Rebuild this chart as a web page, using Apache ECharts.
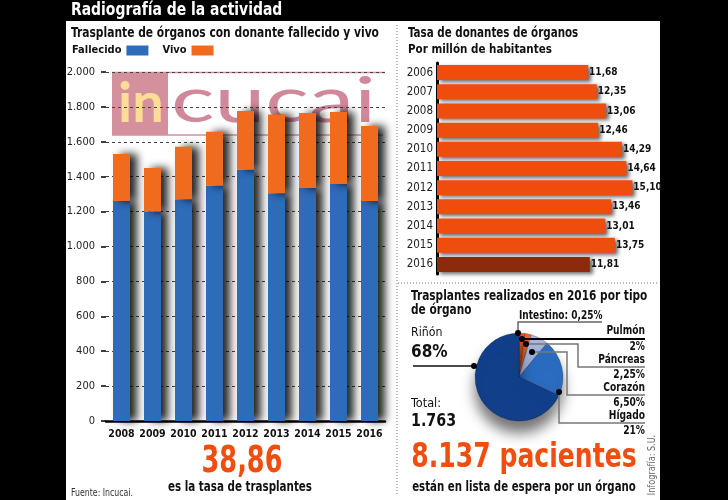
<!DOCTYPE html>
<html>
<head>
<meta charset="utf-8">
<script src="https://cdn.jsdelivr.net/npm/echarts@6/dist/echarts.min.js"></script>
<style>
html, body { margin: 0; padding: 0; background: #000; }
#chart { width: 728px; height: 500px; }
</style>
</head>
<body>
<div id="chart"></div>
<script>
// trasplantes por año (donante fallecido / vivo)
var years = ['2008', '2009', '2010', '2011', '2012', '2013', '2014', '2015', '2016'];
var fallecido = [1261, 1200, 1271, 1348, 1440, 1305, 1335, 1358, 1261];
var vivo = [269, 250, 301, 310, 337, 452, 430, 413, 429];

// tasa de donantes por millón de habitantes
var donYears = ['2006', '2007', '2008', '2009', '2010', '2011', '2012', '2013', '2014', '2015', '2016'];
var donRates = [11.68, 12.35, 13.06, 12.46, 14.29, 14.64, 15.10, 13.46, 13.01, 13.75, 11.81];

// trasplantes 2016 por órgano (%)
var organs = ['Intestino', 'Pulmón', 'Páncreas', 'Corazón', 'Hígado', 'Riñón'];
var organPct = [0.25, 2, 2.25, 6.5, 21, 68];
var organColors = ['#b8330c', '#e8571e', '#ee6a2c', '#a7b7e2', '#2c6cc0', '#123f8a'];

var totalTx = '1.763';
var tasaTx = '38,86';
var pacientes = '8.137';

var NARROW = '"DejaVu Sans Condensed", "Liberation Sans Narrow", sans-serif';

function miles(v) {
  if (v < 1000) return String(v);
  var r = String(v % 1000);
  while (r.length < 3) r = '0' + r;
  return Math.floor(v / 1000) + '.' + r;
}
function pct(p) {
  return (p % 1 ? p.toFixed(2).replace('.', ',') : String(p)) + '%';
}

// texto gráfico; sx = compresión horizontal (la fuente condensada instalada es más ancha)
function txt(x, y, text, font, fill, align, sx, extra) {
  var el = {
    type: 'text', x: x, y: y, z: 5, scaleX: sx || 1,
    style: {
      text: text, font: font, fill: fill || '#111',
      align: align || 'left', verticalAlign: 'middle',
      textAlign: align || 'left', textVerticalAlign: 'middle'
    }
  };
  if (extra) for (var k in extra) el[k] = extra[k];
  return el;
}
function line(points, color, width) {
  return { type: 'polyline', z: 4, shape: { points: points }, style: { stroke: color, lineWidth: width, fill: null } };
}
function dot(x, y) {
  return { type: 'circle', z: 6, shape: { cx: x, cy: y, r: 3 }, style: { fill: '#000' } };
}

var B = 'bold ';
var graphics = [
  // panel blanco
  { type: 'rect', z: -100, shape: { x: 66, y: 21, width: 594, height: 479 }, style: { fill: '#fff' } },
  // logo incucai (marca de agua)
  { type: 'rect', z: -50, shape: { x: 112, y: 72, width: 56, height: 63 }, style: { fill: '#d4909c' } },
  { type: 'line', z: -50, shape: { x1: 112, y1: 72.5, x2: 385, y2: 72.5 }, style: { stroke: '#d4909c', lineWidth: 1.5 } },
  { type: 'line', z: -50, shape: { x1: 112, y1: 135, x2: 383, y2: 135 }, style: { stroke: '#d4909c', lineWidth: 1.5 } },
  txt(118, 104, 'in', 'bold 56px Lato, sans-serif', '#fcdc96', 'left', 1, { z: -40 }),
  txt(171, 102, 'cucai', '62px Lato, sans-serif', '#d0889a', 'left', 1.47, { z: -40 }),
  // separadores punteados
  { type: 'line', z: 1, shape: { x1: 397, y1: 25, x2: 397, y2: 496 }, style: { stroke: '#777', lineWidth: 1, lineDash: [1, 2] } },
  { type: 'line', z: 1, shape: { x1: 398, y1: 283, x2: 658, y2: 283 }, style: { stroke: '#777', lineWidth: 1, lineDash: [1, 2] } },
  // títulos
  txt(71, 10, 'Radiografía de la actividad', B + '18px ' + NARROW, '#fff', 'left', 0.86),
  txt(71, 33, 'Trasplante de órganos con donante fallecido y vivo', B + '14px ' + NARROW, '#111', 'left', 0.85),
  txt(408, 33, 'Tasa de donantes de órganos', B + '14px ' + NARROW, '#111', 'left', 0.82),
  txt(408, 50, 'Por millón de habitantes', B + '12px ' + NARROW, '#111', 'left', 0.96),
  txt(411, 296, 'Trasplantes realizados en 2016 por tipo', B + '14px ' + NARROW, '#111', 'left', 0.84),
  txt(411, 310, 'de órgano', B + '14px ' + NARROW, '#111', 'left', 0.84),
  // cifras destacadas
  txt(242, 462, tasaTx, B + '37px ' + NARROW, '#f04e0e', 'center', 0.77),
  txt(240, 487, 'es la tasa de trasplantes', B + '14px ' + NARROW, '#111', 'center', 0.82),
  txt(71, 493, 'Fuente: Incucai.', '10px ' + NARROW, '#333', 'left', 0.87),
  txt(524, 458, pacientes + ' pacientes', B + '33px ' + NARROW, '#f04e0e', 'center', 0.845),
  txt(524, 487, 'están en lista de espera por un órgano', B + '14px ' + NARROW, '#111', 'center', 0.81),
  txt(652, 465, 'Infografía: S.U.', '10px ' + NARROW, '#666', 'center', 0.9, { rotation: Math.PI / 2 }),
  // pie: rótulos y guías
  txt(411, 333, organs[5], '13px ' + NARROW, '#111', 'left', 0.94),
  txt(411, 353, pct(organPct[5]), B + '17px ' + NARROW, '#111', 'left', 1),
  txt(411, 404, 'Total:', '13px ' + NARROW, '#111', 'left', 0.97),
  txt(411, 421, totalTx, B + '18px ' + NARROW, '#111', 'left', 0.88),
  txt(519, 316, organs[0] + ': ' + pct(organPct[0]), B + '13px ' + NARROW, '#111', 'left', 0.77),
  txt(645, 331, organs[1], B + '13px ' + NARROW, '#111', 'right', 0.78),
  txt(645, 347, pct(organPct[1]), B + '13px ' + NARROW, '#111', 'right', 0.78),
  txt(645, 360, organs[2], B + '13px ' + NARROW, '#111', 'right', 0.78),
  txt(645, 375, pct(organPct[2]), B + '13px ' + NARROW, '#111', 'right', 0.78),
  txt(645, 388, organs[3], B + '13px ' + NARROW, '#111', 'right', 0.78),
  txt(645, 403, pct(organPct[3]), B + '13px ' + NARROW, '#111', 'right', 0.78),
  txt(645, 416, organs[4], B + '13px ' + NARROW, '#111', 'right', 0.78),
  txt(645, 431, pct(organPct[4]), B + '13px ' + NARROW, '#111', 'right', 0.78),
  line([[474, 366], [413, 366]], '#111', 1.5), dot(474, 366),
  line([[518, 333], [518, 322], [602, 322]], '#666', 1.5), dot(518, 333),
  line([[522, 339], [645, 339]], '#000', 2), dot(522, 339),
  line([[526, 344], [578, 344], [578, 367], [645, 367]], '#777', 1.5), dot(526, 344),
  line([[532, 352], [567, 352], [567, 395], [645, 395]], '#777', 1.5), dot(532, 352),
  line([[559, 392], [559, 423], [645, 423]], '#777', 1.5), dot(559, 392)
];

var barShadow = { shadowColor: 'rgba(0,0,0,0.85)', shadowBlur: 9, shadowOffsetX: 7, shadowOffsetY: 0 };

var option = {
  animation: false,
  legend: {
    data: ['Fallecido', 'Vivo'],
    left: 67, top: 40,
    align: 'right', icon: 'rect',
    itemWidth: 22, itemHeight: 10, itemGap: 14,
    textStyle: { fontFamily: NARROW, fontWeight: 'bold', fontSize: 11, color: '#111' }
  },
  grid: [
    { left: 106, width: 279, top: 72, height: 349 },
    { left: 437, width: 207, top: 63, height: 211 }
  ],
  xAxis: [
    {
      gridIndex: 0, type: 'category', data: years,
      axisLine: { lineStyle: { color: '#000', width: 2.5 } },
      axisTick: { show: false },
      axisLabel: { interval: 0, color: '#111', fontFamily: NARROW, fontWeight: 'bold', fontSize: 10.5, margin: 8 }
    },
    { gridIndex: 1, type: 'value', min: 0, max: 16, show: false }
  ],
  yAxis: [
    {
      gridIndex: 0, type: 'value', min: 0, max: 2000, interval: 200,
      axisLine: { show: false },
      axisTick: { show: true, length: 5, lineStyle: { color: '#000', width: 1.5 } },
      axisLabel: { color: '#222', fontFamily: NARROW, fontSize: 11, margin: 11, formatter: miles },
      splitLine: { lineStyle: { color: '#444', type: [3, 3], width: 1 } }
    },
    {
      gridIndex: 1, type: 'category', data: donYears, inverse: true,
      axisLine: { lineStyle: { color: '#000', width: 3 } },
      axisTick: { show: false },
      axisLabel: { interval: 0, color: '#222', fontFamily: NARROW, fontSize: 11.5, margin: 4 }
    }
  ],
  series: [
    {
      name: 'Fallecido', type: 'bar', stack: 'tx', data: fallecido, barWidth: 17,
      itemStyle: Object.assign({ color: '#2e6bb8' }, barShadow)
    },
    {
      name: 'Vivo', type: 'bar', stack: 'tx', data: vivo, barWidth: 17,
      itemStyle: Object.assign({ color: '#f06b1e' }, barShadow)
    },
    {
      name: 'Donantes', type: 'bar', xAxisIndex: 1, yAxisIndex: 1, barWidth: 15,
      data: donRates.map(function (v, i) {
        return { value: v, itemStyle: { color: i === donRates.length - 1 ? '#8c2a0c' : '#ef4d0e' } };
      }),
      itemStyle: { shadowColor: 'rgba(0,0,0,0.6)', shadowBlur: 4, shadowOffsetX: 3, shadowOffsetY: 2 },
      label: {
        show: true, position: 'right', distance: 1,
        fontFamily: NARROW, fontWeight: 'bold', fontSize: 10, color: '#111',
        formatter: function (p) { return p.value.toFixed(2).replace('.', ','); }
      }
    },
    {
      name: 'Órganos', type: 'pie', center: [519, 377], radius: 44,
      startAngle: 90, clockwise: true, label: { show: false }, labelLine: { show: false },
      itemStyle: { borderColor: 'rgba(0,0,0,0.4)', borderWidth: 0.5, shadowColor: 'rgba(0,0,0,0.55)', shadowBlur: 14, shadowOffsetY: 12 },
      data: organs.map(function (n, i) {
        return { name: n, value: organPct[i], itemStyle: { color: organColors[i] } };
      })
    }
  ],
  graphic: graphics
};

var chart = echarts.init(document.getElementById('chart'));
chart.setOption(option);
</script>
</body>
</html>
